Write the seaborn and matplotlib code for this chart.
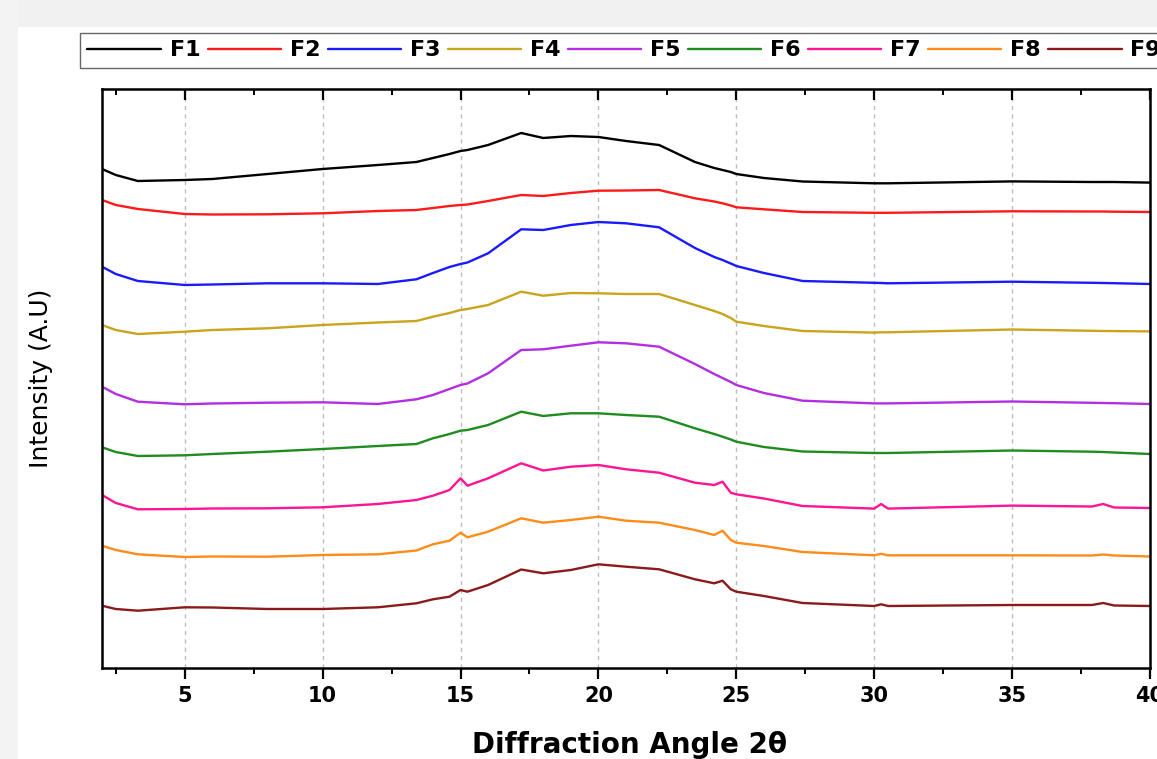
import numpy as np
import pandas as pd
import matplotlib
matplotlib.use("Agg")
import matplotlib.pyplot as plt
import seaborn as sns
from matplotlib.patches import Rectangle
from matplotlib.ticker import MultipleLocator

angles = [2, 2.5, 3.3, 5, 6, 8, 10, 12, 13.4, 14, 14.6, 15, 15.25, 16, 17.2, 18, 19, 20, 21, 22.2,
          23.5, 24.2, 24.5, 24.8, 25, 26, 27.4, 30, 30.25, 30.5, 35, 37.9, 38.3, 38.7, 40]

# stacked intensities (already offset, arbitrary units)
f1 = [499, 493, 487, 488, 489, 494, 499, 503, 506, 510, 514, 517, 518, 523, 535, 530, 532, 531, 527, 523,
      506, 500, 498, 496, 494, 490, 486.5, 484.7, 484.7, 484.7, 486.6, 486, 486, 486, 485.4]
f2 = [468, 463, 459, 454, 453.5, 453.7, 454.7, 457, 458, 460, 462, 463, 463.5, 467, 473, 472, 475, 477.3, 477.5, 478,
      469.7, 466.5, 464.7, 462.5, 460.7, 458.7, 456, 455.2, 455.2, 455.2, 456.7, 456.5, 456.5, 456.3, 456]
f3 = [401.3, 394, 387, 383, 383.5, 384.7, 384.7, 384, 388.7, 395, 401, 404, 405.5, 414.7, 438.7, 438, 443, 446, 444.7, 440.7,
      420, 411, 408, 404.5, 402, 395, 387, 385.2, 385, 384.7, 386.3, 385.2, 385, 384.8, 384]
f4 = [343, 338, 334, 336.3, 338, 339.7, 343, 345.5, 347, 351.3, 355, 358, 359, 363, 376.3, 372.3, 375, 374.7, 374, 374,
      363, 357, 354, 350, 346.3, 342, 337, 335.4, 335.7, 335.7, 338.5, 337.2, 337, 336.9, 336.6]
f5 = [281.3, 274, 266.3, 263.7, 264.5, 265.3, 265.7, 264, 268.7, 273, 279, 283, 284.5, 294.7, 318, 318.7, 322.3, 325.7, 324.7, 321.3,
      304, 294, 290, 286, 283, 275, 267.3, 264.6, 264.6, 264.6, 266.5, 265.2, 265, 264.8, 264]
f6 = [220.7, 216, 212, 212.7, 214, 216.3, 219, 222, 224, 229.7, 234, 237.3, 238, 243, 256.3, 252, 254.7, 254.7, 253, 251.3,
      239.7, 234, 231.3, 228.5, 226.3, 221, 216.5, 215, 215, 215, 217.5, 216.3, 216, 215.5, 214]
f7 = [173, 165, 158.7, 159, 159.5, 159.7, 160.7, 164, 168, 172.3, 178, 189.7, 182.3, 189.7, 204.7, 197.5, 201.3, 203, 198.7, 195.3,
      185.3, 183, 186.3, 175.3, 173.7, 169.5, 162, 159.4, 164, 159.4, 162.4, 161.5, 164, 160.5, 160]
f8 = [122.3, 118, 113.7, 111, 111.5, 111.3, 113, 113.7, 117.5, 123.7, 127.3, 135.3, 130.7, 136.3, 149.7, 145.3, 148, 151.3, 147.3, 145.3,
      138, 133, 137.3, 128, 125.3, 122, 116, 112.7, 114.2, 112.7, 112.7, 112.5, 113.5, 112.5, 111.5]
f9 = [62.3, 59, 57.3, 60.7, 60.5, 59, 59, 60.7, 64.7, 68.7, 71.3, 78, 76.3, 83, 98.5, 94.7, 98, 103.7, 101.3, 98.7,
      88.7, 84.7, 87.3, 78.7, 76.3, 72, 65, 62, 63.7, 62, 63, 63, 65, 62.5, 62]

samples = ["F1", "F2", "F3", "F4", "F5", "F6", "F7", "F8", "F9"]
colors = ["#000000", "#ff1a1a", "#1a1aff", "#c9a41c", "#b22ee0", "#1e8c1e", "#ff1493", "#ff8c1a", "#8b1a1a"]

rows = []
for name, vals in zip(samples, [f1, f2, f3, f4, f5, f6, f7, f8, f9]):
    for a, v in zip(angles, vals):
        rows.append({"angle": a, "intensity": v, "sample": name})
df = pd.DataFrame(rows)

sns.set_style("ticks")
plt.rcParams.update({"text.color": "black", "axes.labelcolor": "black",
                     "xtick.color": "black", "ytick.color": "black"})
fig = plt.figure(figsize=(11.57, 7.59), dpi=100)

# screenshot-like grey margins
fig.patches.append(Rectangle((0, 1 - 27 / 759), 1, 27 / 759, transform=fig.transFigure,
                             facecolor="#f1f1f1", edgecolor="none", zorder=0))
fig.patches.append(Rectangle((0, 0), 18 / 1157, 1, transform=fig.transFigure,
                             facecolor="#f3f3f3", edgecolor="none", zorder=0))

ax = fig.add_axes([102 / 1157, 91 / 759, 1048 / 1157, 579 / 759])
sns.lineplot(data=df, x="angle", y="intensity", hue="sample", palette=colors,
             estimator=None, sort=False, lw=1.7, ax=ax)

ax.set_xlim(2, 40)
ax.set_ylim(0, 579)
ax.set_yticks([])
ax.xaxis.set_major_locator(MultipleLocator(5))
ax.xaxis.set_minor_locator(MultipleLocator(2.5))
ax.tick_params(axis="x", which="major", direction="out", length=8, width=1.6, labelsize=15, pad=5,
               colors="black")
ax.tick_params(axis="x", which="minor", direction="out", length=4, width=1.4, colors="black")
for lab in ax.get_xticklabels():
    lab.set_fontweight("bold")

# top ticks point inward
top = ax.secondary_xaxis("top")
top.xaxis.set_major_locator(MultipleLocator(5))
top.xaxis.set_minor_locator(MultipleLocator(2.5))
top.tick_params(axis="x", which="major", direction="in", length=8, width=1.6, labeltop=False)
top.tick_params(axis="x", which="minor", direction="in", length=4, width=1.4)

for s in ax.spines.values():
    s.set_linewidth(1.8)
    s.set_color("black")

for g in range(5, 40, 5):
    ax.axvline(g, color="#bdbdbd", lw=1, ls=(0, (3, 3)), zorder=0)

ax.set_xlabel("Diffraction Angle 2θ", fontsize=20, fontweight="bold", color="black")
ax.xaxis.set_label_coords(0.503, -0.108)
ax.set_ylabel("Intensity (A.U)", fontsize=18, color="black")
ax.yaxis.set_label_coords(-0.047, 0.5)

sns.move_legend(ax, "upper left", bbox_to_anchor=(80 / 1157, 1 - 33 / 759),
                bbox_transform=fig.transFigure, borderaxespad=0, ncol=9, title=None,
                frameon=True, fancybox=False, framealpha=1, edgecolor="#666666",
                prop={"weight": "bold", "size": 16}, handlelength=3.3, handletextpad=0.4,
                columnspacing=0.33, borderpad=0.33)
ax.get_legend().get_frame().set_linewidth(1.0)
for t in ax.get_legend().get_texts():
    t.set_color("black")

fig.savefig("out.png", dpi=100)
